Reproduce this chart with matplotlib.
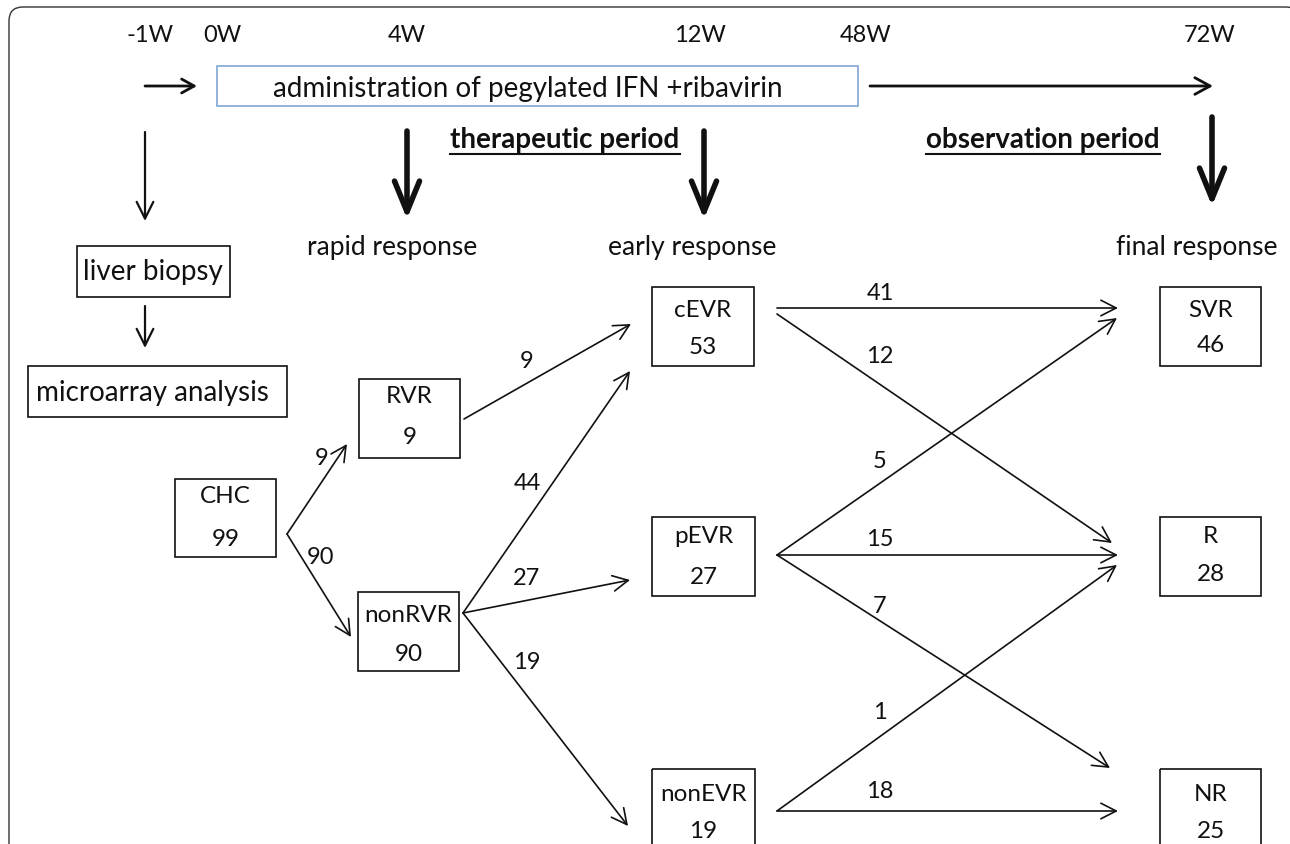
import matplotlib
matplotlib.use("Agg")
import matplotlib.pyplot as plt
from matplotlib.patches import Rectangle, FancyBboxPatch

plt.rcParams["font.family"] = ["Lato", "DejaVu Sans"]

# --- content -------------------------------------------------------------
WEEK_LABELS = ["-1W", "0W", "4W", "12W", "48W", "72W"]
TREATMENT_LABEL = "administration of pegylated IFN +ribavirin"
PERIOD_LABELS = ["therapeutic period", "observation period"]
STAGE_LABELS = ["rapid response", "early response", "final response"]
PREP_LABELS = ["liver biopsy", "microarray analysis"]

NODE_NAMES = ["CHC", "RVR", "nonRVR", "cEVR", "pEVR", "nonEVR", "SVR", "R", "NR"]
NODE_COUNTS = [99, 9, 90, 53, 27, 19, 46, 28, 25]

FLOW_SOURCES = ["CHC", "CHC", "RVR", "nonRVR", "nonRVR", "nonRVR",
                "cEVR", "cEVR", "pEVR", "pEVR", "pEVR", "nonEVR", "nonEVR"]
FLOW_TARGETS = ["RVR", "nonRVR", "cEVR", "cEVR", "pEVR", "nonEVR",
                "SVR", "R", "SVR", "R", "NR", "R", "NR"]
FLOW_COUNTS = [9, 90, 9, 44, 27, 19, 41, 12, 5, 15, 7, 1, 18]

# --- layout (pixel coordinates, y down) ------------------------------------
WEEK_X = [150, 222, 407, 700, 866, 1210]
STAGE_X = [392, 692, 1197]
PERIOD_X = [565, 1043]

NODE_BOX = {
    "CHC": (175, 480, 276, 558),
    "RVR": (359, 380, 460, 459),
    "nonRVR": (358, 593, 459, 672),
    "cEVR": (652, 288, 754, 367),
    "pEVR": (652, 518, 755, 597),
    "nonEVR": (652, 770, 755, 860),
    "SVR": (1160, 288, 1261, 367),
    "R": (1160, 518, 1261, 597),
    "NR": (1160, 770, 1261, 860),
}
NODE_TEXT_Y = {
    "CHC": (497, 540), "RVR": (397, 438), "nonRVR": (616, 655),
    "cEVR": (311, 348), "pEVR": (537, 578), "nonEVR": (795, 832),
    "SVR": (311, 346), "R": (537, 575), "NR": (795, 832),
}
# start, end, label position for each flow (same order as FLOW_*)
FLOW_GEOM = [
    ((287, 535), (347, 445), (322, 459)),
    ((287, 535), (351, 638), (320, 558)),
    ((464, 420), (631, 325), (527, 362)),
    ((463, 614), (630, 372), (527, 484)),
    ((463, 614), (630, 581), (527, 579)),
    ((463, 614), (628, 827), (527, 663)),
    ((777, 309), (1118, 309), (880, 294)),
    ((777, 315), (1112, 544), (880, 357)),
    ((777, 556), (1117, 319), (880, 462)),
    ((777, 556), (1118, 556), (880, 540)),
    ((777, 556), (1110, 769), (880, 607)),
    ((777, 812), (1117, 566), (880, 713)),
    ((777, 812), (1118, 812), (880, 792)),
]

INK = "#111111"


def arrow(ax, start, end, lw, hl, hw):
    ax.annotate(
        "", xy=end, xytext=start,
        arrowprops=dict(arrowstyle=f"->,head_length={hl},head_width={hw}",
                        lw=lw, color=INK, shrinkA=0, shrinkB=0,
                        mutation_scale=20),
    )


fig = plt.figure(figsize=(12.9, 8.45), dpi=100)
ax = fig.add_axes([0, 0, 1, 1])
ax.set_xlim(0, 1290)
ax.set_ylim(845, 0)
ax.axis("off")

# outer rounded frame (bottom and right edges fall outside the picture)
ax.add_patch(FancyBboxPatch((9, 8), 1291, 900, boxstyle="round,pad=0,rounding_size=14",
                            fill=False, lw=1.0, ec="#333333"))

# week labels
for label, x in zip(WEEK_LABELS, WEEK_X):
    ax.text(x, 36, label, ha="center", va="center", fontsize=17, color=INK)

# treatment box and timeline arrows
ax.add_patch(Rectangle((217, 67), 858 - 217, 107 - 67, fill=False, lw=1.2, ec="#7fa6d6"))
ax.text(528, 89, TREATMENT_LABEL, ha="center", va="center", fontsize=20, color=INK)
arrow(ax, (145, 87), (197, 87), 2.0, 0.45, 0.25)
arrow(ax, (870, 87), (1213, 87), 2.0, 0.55, 0.3)

# vertical arrows
arrow(ax, (145, 133), (145, 222), 1.6, 0.6, 0.3)
for x, y0, y1 in [(407, 132, 220), (704, 132, 220), (1212, 118, 207)]:
    arrow(ax, (x, y0), (x, y1), 4.0, 1.1, 0.45)

# period headings (bold, underlined)
fig.canvas.draw()
renderer = fig.canvas.get_renderer()
for label, x in zip(PERIOD_LABELS, PERIOD_X):
    t = ax.text(x, 140, label, ha="center", va="center", fontsize=20,
                fontweight="bold", color=INK)
    bb = t.get_window_extent(renderer).transformed(ax.transData.inverted())
    ax.plot([bb.x0, bb.x1], [155, 155], color=INK, lw=1.5)

for label, x in zip(STAGE_LABELS, STAGE_X):
    ax.text(x, 247, label, ha="center", va="center", fontsize=19, color=INK)

# preparation boxes
ax.add_patch(Rectangle((77, 247), 230 - 77, 298 - 247, fill=False, lw=1.2, ec=INK))
ax.text(153, 272, PREP_LABELS[0], ha="center", va="center", fontsize=20, color=INK)
arrow(ax, (145, 307), (145, 349), 1.6, 0.6, 0.3)
ax.add_patch(Rectangle((28, 367), 287 - 28, 418 - 367, fill=False, lw=1.2, ec=INK))
ax.text(152, 393, PREP_LABELS[1], ha="center", va="center", fontsize=20, color=INK)

# nodes
for name, count in zip(NODE_NAMES, NODE_COUNTS):
    x0, y0, x1, y1 = NODE_BOX[name]
    ax.add_patch(Rectangle((x0, y0), x1 - x0, y1 - y0, fill=False, lw=1.2, ec=INK))
    ty, cy = NODE_TEXT_Y[name]
    xc = (x0 + x1) / 2
    ax.text(xc, ty, name, ha="center", va="center", fontsize=17.5, color=INK)
    ax.text(xc, cy, str(count), ha="center", va="center", fontsize=17.5, color=INK)

# flows
for count, (start, end, lab) in zip(FLOW_COUNTS, FLOW_GEOM):
    arrow(ax, start, end, 1.2, 0.55, 0.28)
    ax.text(lab[0], lab[1], str(count), ha="center", va="center", fontsize=17, color=INK)

fig.savefig("out.png", dpi=100)
plt.close(fig)
